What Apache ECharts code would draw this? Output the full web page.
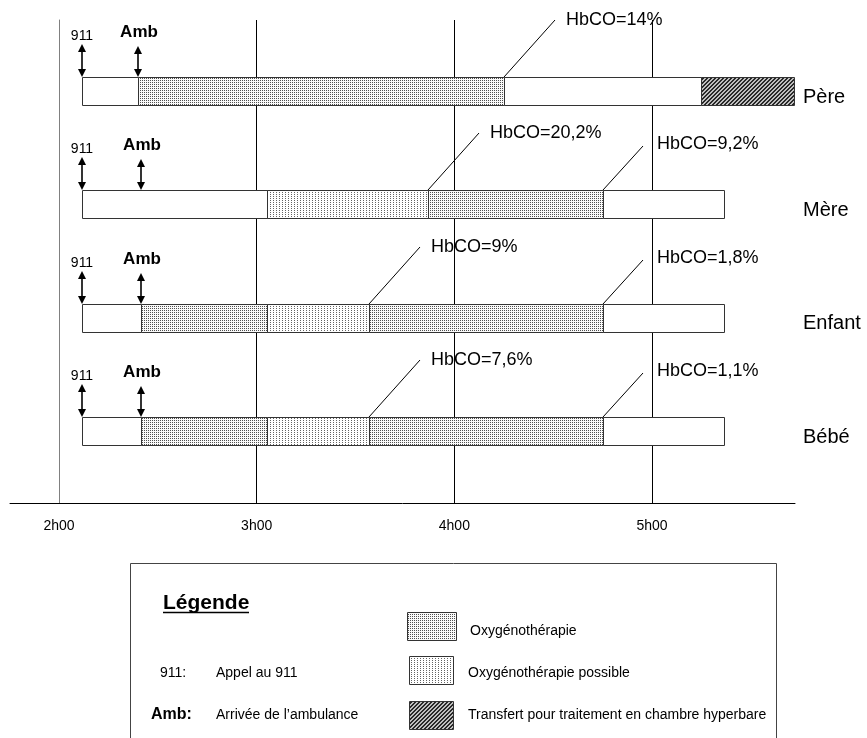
<!DOCTYPE html>
<html><head><meta charset="utf-8">
<script src="https://cdn.jsdelivr.net/npm/echarts@6/dist/echarts.min.js"></script>
<style>html,body{margin:0;padding:0;background:#fff}#c{width:867px;height:738px}</style>
</head><body><div id="c"></div>
<script>
// ---------- data ----------
const rows = ['Père', 'Mère', 'Enfant', 'Bébé'];
const tickMinutes = [120, 180, 240, 300];
const tickLabels = ['2h00', '3h00', '4h00', '5h00'];
// segments: [début (min), fin (min), type]
const pereSegments   = [[127, 144, 'aucun'], [144, 255, 'oxy'], [255, 315, 'aucun'], [315, 343, 'hyper']];
const mereSegments   = [[127, 183, 'aucun'], [183, 232, 'possible'], [232, 285, 'oxy'], [285, 322, 'aucun']];
const enfantSegments = [[127, 145, 'aucun'], [145, 183, 'oxy'], [183, 214, 'possible'], [214, 285, 'oxy'], [285, 322, 'aucun']];
const bebeSegments   = [[127, 145, 'aucun'], [145, 183, 'oxy'], [183, 214, 'possible'], [214, 285, 'oxy'], [285, 322, 'aucun']];
const appel911 = [127, 127, 127, 127];
const arriveeAmb = [144, 145, 145, 145];
const hbcoTimes = [[255], [232, 285], [214, 285], [214, 285]];
const hbcoLabels = [['HbCO=14%'], ['HbCO=20,2%', 'HbCO=9,2%'], ['HbCO=9%', 'HbCO=1,8%'], ['HbCO=7,6%', 'HbCO=1,1%']];
const legendTitle = 'Légende';
const legendCodes = [['911:', 'Appel au 911'], ['Amb:', 'Arrivée de l’ambulance']];
const legendTypes = ['oxy', 'possible', 'hyper'];
const legendItems = ['Oxygénothérapie', 'Oxygénothérapie possible', 'Transfert pour traitement en chambre hyperbare'];

// ---------- patterns ----------
function makePattern(w, h, fn) {
  const c = document.createElement('canvas'); c.width = w; c.height = h;
  const ctx = c.getContext('2d'); const img = ctx.createImageData(w, h);
  for (let y = 0; y < h; y++) for (let x = 0; x < w; x++) {
    const v = fn(x, y); const i = (y * w + x) * 4;
    img.data[i] = img.data[i + 1] = img.data[i + 2] = v; img.data[i + 3] = 255;
  }
  ctx.putImageData(img, 0, 0);
  return { image: c, repeat: 'repeat' };
}
const fills = {
  aucun: '#ffffff',
  oxy: makePattern(2, 2, (x, y) => (x === 0 && y === 0) ? 80 : 250),
  possible: makePattern(3, 2, (x, y) => (x === 0 && y === 0) ? 100 : 255),
  hyper: makePattern(4, 4, (x, y) => ((x + y) % 4 < 2) ? 40 : 190)
};
const typeList = ['aucun', 'oxy', 'possible', 'hyper'];

const allSegments = [pereSegments, mereSegments, enfantSegments, bebeSegments];
const barData = [];
allSegments.forEach((segs, r) => segs.forEach(s => barData.push([s[0], s[1], r, typeList.indexOf(s[2])])));
const eventData = [];
appel911.forEach((t, r) => eventData.push([t, r, 0]));
arriveeAmb.forEach((t, r) => eventData.push([t, r, 1]));
const hbcoData = [];
hbcoTimes.forEach((ts, r) => ts.forEach((t, i) => hbcoData.push([t, r, i])));

const FONT = '"Liberation Sans", Arial, sans-serif';
const BAR_H = 28;
const X_MAX = 120 + 736 / 197.67 * 60;

const chart = echarts.init(document.getElementById('c'), null, { renderer: 'canvas' });
function crisp(v) { return Math.round(v) + 0.5; }

const option = {
  animation: false,
  backgroundColor: '#fff',
  grid: [
    { left: 59, right: 72, top: 20, bottom: 235 },
    { left: 10, right: 72, top: 20, bottom: 235 }
  ],
  xAxis: [
    {
      gridIndex: 0, type: 'value', min: 120, max: X_MAX, interval: 60,
      axisLine: { show: false }, axisTick: { show: false },
      axisLabel: {
        margin: 16, color: '#000', fontSize: 14, fontFamily: FONT,
        formatter: v => { const i = tickMinutes.indexOf(v); return i >= 0 ? tickLabels[i] : ''; }
      },
      splitLine: { show: true, showMinLine: false, showMaxLine: false, lineStyle: { color: '#000', width: 1 } }
    },
    {
      gridIndex: 1, type: 'value', min: 0, max: 1,
      axisLine: { show: true, lineStyle: { color: '#000', width: 1 } },
      axisTick: { show: false }, axisLabel: { show: false }, splitLine: { show: false }
    }
  ],
  yAxis: [
    {
      gridIndex: 0, type: 'value', inverse: true, min: -0.6265, max: 3.635,
      axisLine: { show: true, lineStyle: { color: '#808080', width: 1 } },
      axisTick: { show: false }, axisLabel: { show: false }, splitLine: { show: false }
    },
    { gridIndex: 1, type: 'value', min: 0, max: 1, show: false }
  ],
  series: [
    {
      type: 'custom', xAxisIndex: 0, yAxisIndex: 0, data: barData, z: 3,
      encode: { x: [0, 1], y: 2 },
      renderItem(params, api) {
        const s = api.coord([api.value(0), api.value(2)]);
        const e = api.coord([api.value(1), api.value(2)]);
        const x0 = crisp(s[0]), x1 = crisp(e[0]);
        const y0 = crisp(s[1] - BAR_H / 2);
        return {
          type: 'rect', shape: { x: x0, y: y0, width: x1 - x0, height: BAR_H },
          style: { fill: fills[typeList[api.value(3)]], stroke: '#333', lineWidth: 1 }
        };
      }
    },
    {
      type: 'custom', xAxisIndex: 0, yAxisIndex: 0, data: eventData, z: 4,
      encode: { x: 0, y: 1 },
      renderItem(params, api) {
        const p = api.coord([api.value(0), api.value(1)]);
        const kind = api.value(2);
        const x = Math.round(p[0]);
        const top = Math.round(p[1] - BAR_H / 2);
        const y1 = top - (kind === 0 ? 33 : 31);
        const ah = 8, aw = 4;
        return {
          type: 'group', children: [
            { type: 'line', shape: { x1: x, y1: y1 + ah - 1, x2: x, y2: top - ah + 1 }, style: { stroke: '#000', lineWidth: 1.6 } },
            { type: 'polygon', shape: { points: [[x, y1], [x - aw, y1 + ah], [x + aw, y1 + ah]] }, style: { fill: '#000' } },
            { type: 'polygon', shape: { points: [[x, top], [x - aw, top - ah], [x + aw, top - ah]] }, style: { fill: '#000' } },
            {
              type: 'text', x: x + (kind === 0 ? 0 : 1), y: top - (kind === 0 ? 41 : 45),
              style: {
                text: kind === 0 ? '911' : 'Amb', fill: '#000',
                font: (kind === 0 ? 'normal 14px ' : 'bold 17px ') + FONT,
                align: 'center', verticalAlign: 'middle'
              }
            }
          ]
        };
      }
    },
    {
      type: 'custom', xAxisIndex: 0, yAxisIndex: 0, data: hbcoData, z: 4,
      encode: { x: 0, y: 1 },
      renderItem(params, api) {
        const p = api.coord([api.value(0), api.value(1)]);
        const r = api.value(1), i = api.value(2);
        const x = Math.round(p[0]);
        const top = Math.round(p[1] - BAR_H / 2);
        const dx = i === 0 ? 51 : 40, dy = i === 0 ? -57 : -44;
        const ex = x + dx, ey = top + dy;
        return {
          type: 'group', children: [
            { type: 'line', shape: { x1: x, y1: top, x2: ex, y2: ey }, style: { stroke: '#000', lineWidth: 1 } },
            {
              type: 'text', x: ex + (i === 0 ? 11 : 14), y: ey + (i === 0 ? 0 : -2),
              style: { text: hbcoLabels[r][i], fill: '#000', font: 'normal 18px ' + FONT, align: 'left', verticalAlign: 'middle' }
            }
          ]
        };
      }
    },
    {
      type: 'custom', xAxisIndex: 0, yAxisIndex: 0, data: rows.map((n, r) => [X_MAX, r]), z: 4,
      encode: { x: 0, y: 1 },
      renderItem(params, api) {
        const p = api.coord([api.value(0), api.value(1)]);
        return {
          type: 'text', x: p[0] + 8, y: p[1] + 6,
          style: { text: rows[params.dataIndex], fill: '#000', font: 'normal 20px ' + FONT, align: 'left', verticalAlign: 'middle' }
        };
      }
    },
    { type: 'line', xAxisIndex: 1, yAxisIndex: 1, data: [], silent: true }
  ],
  graphic: {
    elements: [
      { type: 'rect', shape: { x: 130.5, y: 563.5, width: 646, height: 220 }, style: { fill: 'none', stroke: '#444', lineWidth: 1 } },
      { type: 'text', x: 163, y: 603, style: { text: legendTitle, font: 'bold 21px ' + FONT, fill: '#000', verticalAlign: 'middle' } },
      { type: 'line', shape: { x1: 163, y1: 612.5, x2: 249, y2: 612.5 }, style: { stroke: '#000', lineWidth: 1.3 } },
      { type: 'text', x: 160, y: 673, style: { text: legendCodes[0][0], font: 'normal 14px ' + FONT, fill: '#000', verticalAlign: 'middle' } },
      { type: 'text', x: 216, y: 673, style: { text: legendCodes[0][1], font: 'normal 14px ' + FONT, fill: '#000', verticalAlign: 'middle' } },
      { type: 'text', x: 151, y: 715, style: { text: legendCodes[1][0], font: 'bold 16px ' + FONT, fill: '#000', verticalAlign: 'middle' } },
      { type: 'text', x: 216, y: 715, style: { text: legendCodes[1][1], font: 'normal 14px ' + FONT, fill: '#000', verticalAlign: 'middle' } },
      { type: 'rect', shape: { x: 407.5, y: 612.5, width: 49, height: 28 }, style: { fill: fills[legendTypes[0]], stroke: '#333', lineWidth: 1 } },
      { type: 'rect', shape: { x: 409.5, y: 656.5, width: 44, height: 28 }, style: { fill: fills[legendTypes[1]], stroke: '#333', lineWidth: 1 } },
      { type: 'rect', shape: { x: 409.5, y: 701.5, width: 44, height: 28 }, style: { fill: fills[legendTypes[2]], stroke: '#333', lineWidth: 1 } },
      { type: 'text', x: 470, y: 631, style: { text: legendItems[0], font: 'normal 14px ' + FONT, fill: '#000', verticalAlign: 'middle' } },
      { type: 'text', x: 468, y: 673, style: { text: legendItems[1], font: 'normal 14px ' + FONT, fill: '#000', verticalAlign: 'middle' } },
      { type: 'text', x: 468, y: 715, style: { text: legendItems[2], font: 'normal 14px ' + FONT, fill: '#000', verticalAlign: 'middle' } }
    ]
  }
};
chart.setOption(option);
</script>
</body></html>
